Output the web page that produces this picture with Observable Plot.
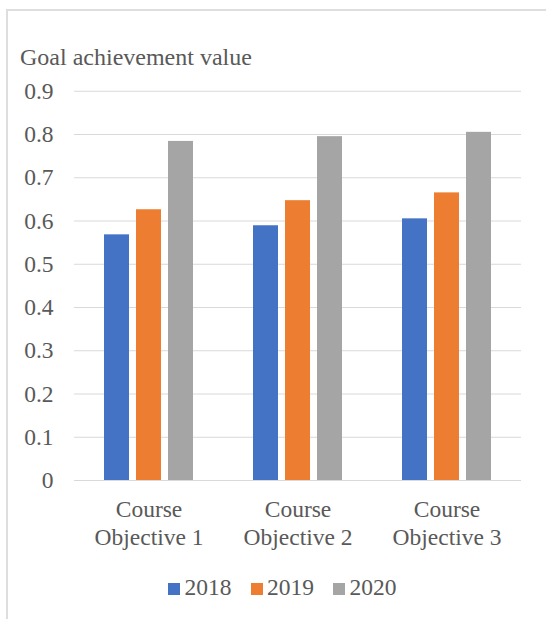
<!DOCTYPE html>
<html><head><meta charset="utf-8">
<script src="https://cdn.jsdelivr.net/npm/d3@7"></script>
<script src="https://cdn.jsdelivr.net/npm/@observablehq/plot@0.6"></script>
<style>
html,body{margin:0;padding:0;background:#fff;overflow:hidden;}
body{width:546px;height:619px;position:relative;font-family:"Liberation Serif","Times New Roman",serif;color:#595959;}
#border{position:absolute;left:6px;top:9px;width:700px;height:800px;border:2px solid #dedede;box-sizing:border-box;}
#title{position:absolute;left:20px;top:45px;font-size:24px;line-height:1;white-space:nowrap;}
#chart{position:absolute;left:0;top:75px;}
#legend{position:absolute;left:168px;top:576px;display:flex;align-items:center;font-size:23.5px;line-height:1;white-space:nowrap;}
#legend .sw{width:12px;height:12px;display:inline-block;position:relative;top:1px;margin-right:4.5px;}
#legend .item{display:flex;align-items:center;margin-right:19px;}
</style>
</head><body>
<div id="border"></div>
<div id="title">Goal achievement value</div>
<div id="chart"></div>
<div id="legend"></div>
<script>
const objectives = ["Course Objective 1", "Course Objective 2", "Course Objective 3"];
const years = ["2018", "2019", "2020"];
const values2018 = [0.568, 0.589, 0.605];
const values2019 = [0.626, 0.647, 0.665];
const values2020 = [0.784, 0.795, 0.805];
const colors = ["#4472c4", "#ed7d31", "#a5a5a5"];
const yTicks = [0, 0.1, 0.2, 0.3, 0.4, 0.5, 0.6, 0.7, 0.8, 0.9];

const series = [values2018, values2019, values2020];
const rows = [];
objectives.forEach((o, i) => years.forEach((y, j) => rows.push({objective: o, year: y, value: series[j][i]})));

const serif = "'Liberation Serif', 'Times New Roman', serif";
const chart = Plot.plot({
  width: 546,
  height: 485,
  marginTop: 15.75,
  marginBottom: 80,
  marginLeft: 74,
  marginRight: 25,
  fx: {domain: objectives, paddingInner: 0, paddingOuter: 0, label: null},
  x: {domain: years, paddingInner: 0.212, paddingOuter: 0.864, axis: null},
  y: {domain: [0, 0.9]},
  color: {domain: years, range: colors},
  style: {fontFamily: serif, fontSize: "23.5px", color: "#595959", background: "transparent", overflow: "visible"},
  marks: [
    Plot.ruleY(yTicks, {stroke: "#d9d9d9", strokeWidth: 1}),
    Plot.barY(rows, {fx: "objective", x: "year", y: "value", fill: "year"}),
    Plot.axisY(yTicks, {tickSize: 0, tickPadding: 21, tickFormat: d => String(d), label: null, fontSize: 23.5, fontFamily: serif}),
    Plot.axisFx({anchor: "bottom", tickSize: 0, tickPadding: 16.7, label: null, lineHeight: 1.18, fontSize: 23.5, fontFamily: serif, tickFormat: d => d.replace(" ", "\n")})
  ]
});
document.getElementById("chart").appendChild(chart);

const legend = document.getElementById("legend");
years.forEach((y, i) => {
  const item = document.createElement("div");
  item.className = "item";
  const sw = document.createElement("span");
  sw.className = "sw";
  sw.style.background = colors[i];
  const t = document.createElement("span");
  t.textContent = y;
  item.appendChild(sw);
  item.appendChild(t);
  legend.appendChild(item);
});
</script>
</body></html>
